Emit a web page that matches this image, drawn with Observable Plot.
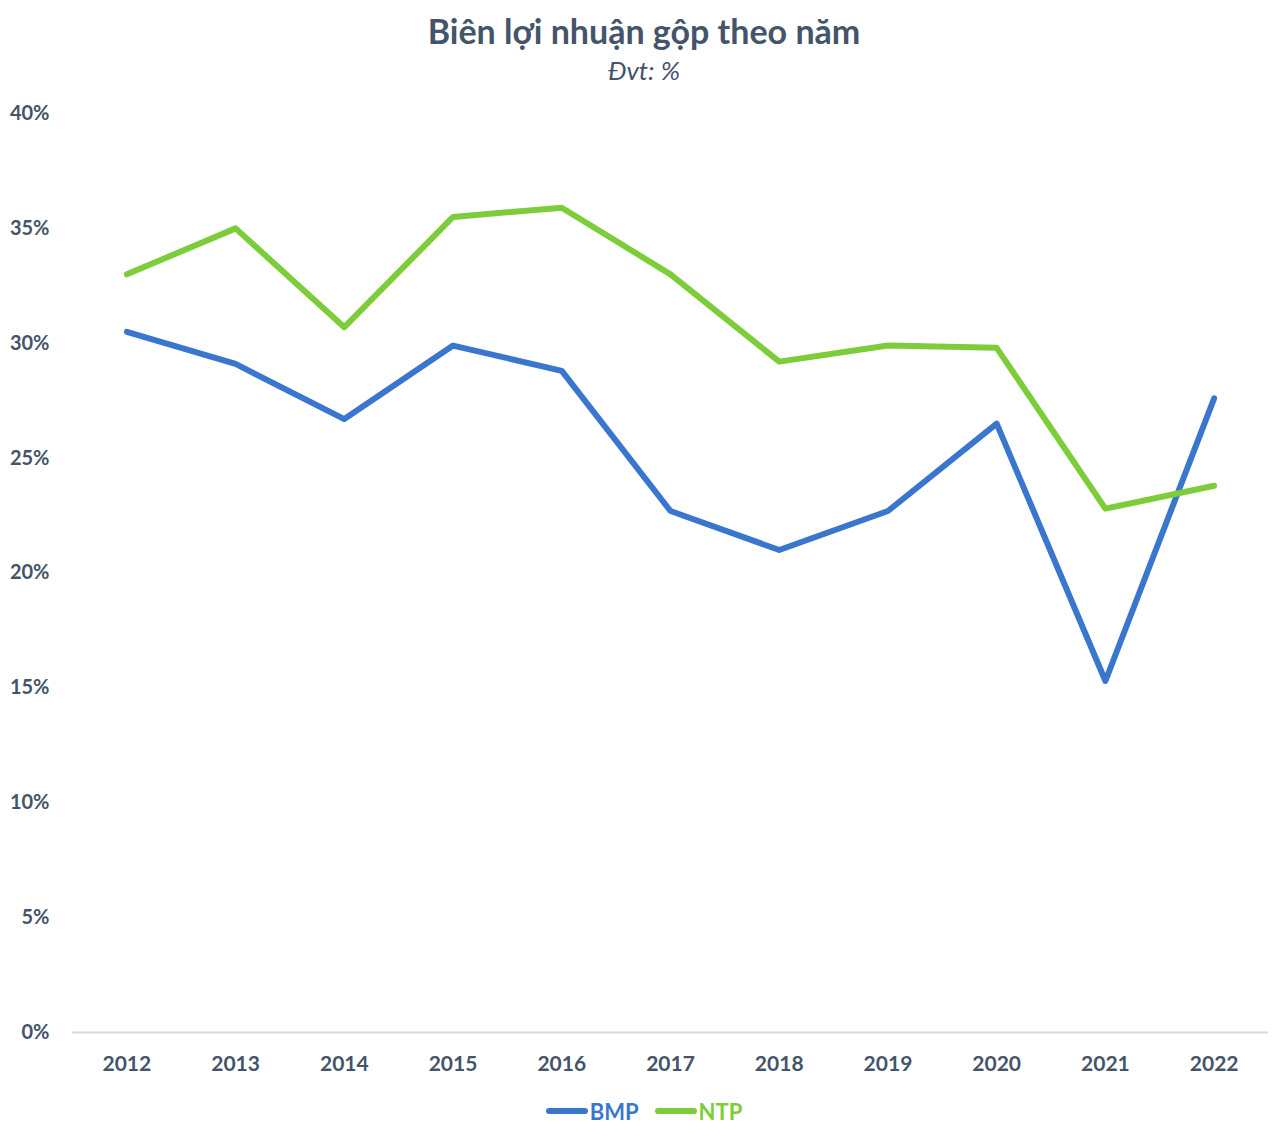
<!DOCTYPE html>
<html>
<head>
<meta charset="utf-8">
<script src="https://cdn.jsdelivr.net/npm/d3@7"></script>
<script src="https://cdn.jsdelivr.net/npm/@observablehq/plot@0.6"></script>
<style>
  body { margin: 0; background: #fff; font-family: Lato, "Open Sans", sans-serif; color: #44546A; }
  #title { text-align: center; font-weight: 700; font-size: 34px; line-height: 36px; margin-top: 13px; }
  #subtitle { text-align: center; font-style: italic; font-size: 26px; line-height: 28px; margin-top: 7px; }
  #legend { display: flex; justify-content: center; align-items: center; height: 30px; margin-top: 14px; font-weight: 700; font-size: 22px; }
  .item { display: flex; align-items: center; margin: 0 8px; }
  .sw { width: 42px; height: 6px; border-radius: 3px; margin-right: 2px; }
</style>
</head>
<body>
<div id="title">Biên lợi nhuận gộp theo năm</div>
<div id="subtitle">Đvt: %</div>
<div id="chart"></div>
<div id="legend"></div>
<script>
const years = ["2012","2013","2014","2015","2016","2017","2018","2019","2020","2021","2022"];
const bmp = [30.5, 29.1, 26.7, 29.9, 28.8, 22.7, 21.0, 22.7, 26.5, 15.3, 27.6];
const ntp = [33.0, 35.0, 30.7, 35.5, 35.9, 33.0, 29.2, 29.9, 29.8, 22.8, 23.8];
const seriesNames = ["BMP", "NTP"];
const seriesColors = ["#3A76CE", "#7DCC3A"];
const yTicks = [0, 5, 10, 15, 20, 25, 30, 35, 40];

const data = [];
years.forEach((y, i) => {
  data.push({year: y, value: bmp[i], series: "BMP"});
  data.push({year: y, value: ntp[i], series: "NTP"});
});

const chart = Plot.plot({
  width: 1288,
  height: 998,
  marginLeft: 72,
  marginRight: 20,
  marginTop: 29,
  marginBottom: 50,
  style: {fontFamily: "Lato, 'Open Sans', sans-serif", color: "#44546A", background: "#fff"},
  x: {type: "point", domain: years, padding: 0.5, round: false, label: null},
  y: {domain: [0, 40], label: null},
  color: {domain: seriesNames, range: seriesColors},
  marks: [
    Plot.ruleY([0], {stroke: "#d9d9d9", strokeWidth: 2}),
    Plot.axisY({ticks: yTicks, tickSize: 0, tickPadding: 23, tickFormat: d => d + "%", fontSize: 20, fontWeight: 700, fill: "#44546A"}),
    Plot.axisX({tickSize: 0, tickPadding: 24, fontSize: 21, fontWeight: 700, fill: "#44546A"}),
    Plot.line(data, {x: "year", y: "value", z: "series", stroke: "series", strokeWidth: 6, strokeLinecap: "round", strokeLinejoin: "round"})
  ]
});
document.getElementById("chart").appendChild(chart);

const legend = document.getElementById("legend");
seriesNames.forEach((n, i) => {
  const it = document.createElement("div");
  it.className = "item";
  it.innerHTML = `<span class="sw" style="background:${seriesColors[i]}"></span><span style="color:${seriesColors[i]}">${n}</span>`;
  legend.appendChild(it);
});
</script>
</body>
</html>
